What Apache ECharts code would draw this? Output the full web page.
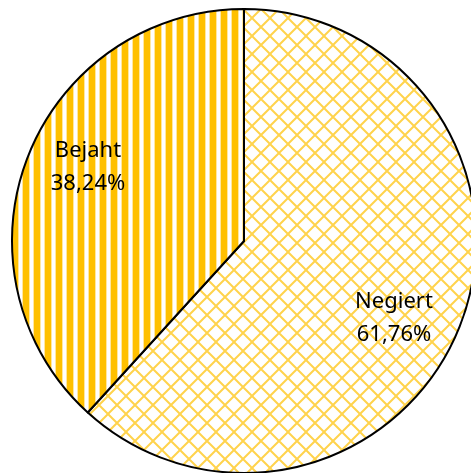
<!DOCTYPE html>
<html>
<head>
<meta charset="utf-8">
<script src="https://cdn.jsdelivr.net/npm/echarts@6/dist/echarts.min.js"></script>
<style>
  html, body { margin: 0; padding: 0; background: #fff; }
  #main { width: 471px; height: 473px; }
</style>
</head>
<body>
<div id="main"></div>
<script>
// data
var categories = ['Negiert', 'Bejaht']
var shares = [61.76, 38.24]
var labelTexts = ['61,76%', '38,24%']

// fill patterns (Excel-like hatch)
function stripePattern() {
  var c = document.createElement('canvas')
  c.width = 11
  c.height = 4
  var ctx = c.getContext('2d')
  ctx.fillStyle = '#fff'
  ctx.fillRect(0, 0, 11, 4)
  ctx.fillStyle = '#FFE7A0'
  ctx.fillRect(0, 0, 1, 4)
  ctx.fillRect(7, 0, 1, 4)
  ctx.fillStyle = '#FFC000'
  ctx.fillRect(1, 0, 6, 4)
  return c
}

function crossPattern() {
  var s = 18
  var c = document.createElement('canvas')
  c.width = s
  c.height = s
  var ctx = c.getContext('2d')
  ctx.fillStyle = '#fff'
  ctx.fillRect(0, 0, s, s)
  ctx.strokeStyle = 'rgba(255,192,0,0.7)'
  ctx.lineWidth = 2
  ctx.beginPath()
  ctx.moveTo(-1, -1)
  ctx.lineTo(s + 1, s + 1)
  ctx.moveTo(s + 1, -1)
  ctx.lineTo(-1, s + 1)
  ctx.stroke()
  return c
}

var fills = [crossPattern(), stripePattern()]
// label centres (layout only)
var labelPos = [[394, 318], [88, 167]]

var myChart = echarts.init(document.getElementById('main'))
var option = {
  animation: false,
  backgroundColor: '#fff',
  series: [
    {
      type: 'pie',
      center: [244, 241],
      radius: 232,
      startAngle: 90,
      clockwise: true,
      itemStyle: {
        borderColor: '#000',
        borderWidth: 2
      },
      label: {
        show: true,
        position: 'inside',
        color: '#000',
        fontFamily: 'Noto Sans',
        fontSize: 22,
        lineHeight: 33,
        align: 'center',
        formatter: function (p) {
          return p.name + '\n' + labelTexts[p.dataIndex]
        }
      },
      labelLine: { show: false },
      labelLayout: function (p) {
        return { x: labelPos[p.dataIndex][0], y: labelPos[p.dataIndex][1], align: 'center', verticalAlign: 'middle' }
      },
      emphasis: { disabled: true },
      data: categories.map(function (name, i) {
        return {
          name: name,
          value: shares[i],
          itemStyle: { color: { image: fills[i], repeat: 'repeat' } }
        }
      })
    }
  ]
}
myChart.setOption(option)
</script>
</body>
</html>
